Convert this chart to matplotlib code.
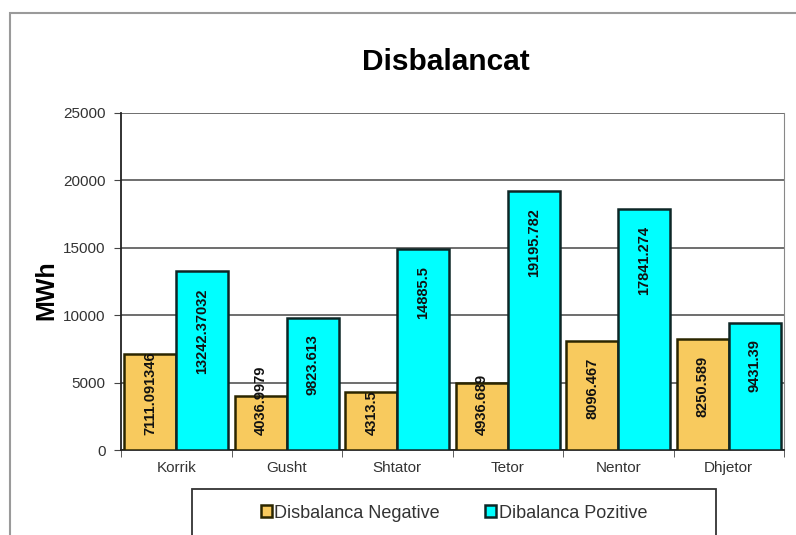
import matplotlib.pyplot as plt
import matplotlib.patches as mpatches
import numpy as np

plt.rcParams['font.family'] = ['Liberation Sans', 'DejaVu Sans']

# data
months = ['Korrik', 'Gusht', 'Shtator', 'Tetor', 'Nentor', 'Dhjetor']
negative = [7111.091346, 4036.9979, 4313.5, 4936.689, 8096.467, 8250.589]
positive = [13242.37032, 9823.613, 14885.5, 19195.782, 17841.274, 9431.39]
neg_labels = ['7111.091346', '4036.9979', '4313.5', '4936.689', '8096.467', '8250.589']
pos_labels = ['13242.37032', '9823.613', '14885.5', '19195.782', '17841.274', '9431.39']
yticks = [0, 5000, 10000, 15000, 20000, 25000]

W, H = 796, 535
fig = plt.figure(figsize=(W / 100, H / 100), dpi=100)
ax = fig.add_axes([121 / W, 1 - 450 / H, (784 - 121) / W, (450 - 113) / H])

# outer chart frame (runs off the right and bottom of the picture)
fig.patches.append(mpatches.Rectangle((10 / W, -0.1), 1.0, 1 - 13 / H + 0.1,
                                      transform=fig.transFigure, fill=False,
                                      edgecolor='#9a9a9a', lw=1.5))

x = np.arange(len(months))
w = 0.47
bars_n = ax.bar(x - w / 2, negative, w, color='#F8CA5E', edgecolor='#2b2600', lw=1.8,
                label='Disbalanca Negative', zorder=3)
bars_p = ax.bar(x + w / 2, positive, w, color='#00FFFF', edgecolor='#0d2626', lw=1.8,
                label='Dibalanca Pozitive', zorder=3)

ax.set_xlim(-0.5, 5.5)
ax.set_ylim(0, 25000)
ax.set_yticks(yticks)
ax.set_yticklabels([str(v) for v in yticks], fontsize=11, color='#333333')
ax.set_xticks(x)
ax.set_xticklabels(months, fontsize=11, color='#333333')
ax.set_xticks(np.arange(-0.5, 6, 1), minor=True)
ax.tick_params(axis='x', which='major', length=0, pad=8)
ax.tick_params(axis='x', which='minor', length=5, direction='out', color='#444')
ax.tick_params(axis='y', length=5, direction='out', pad=6, color='#444')
ax.grid(axis='y', color='#555555', lw=1.2, zorder=0)

for side in ['left', 'bottom']:
    ax.spines[side].set_color('#222222')
    ax.spines[side].set_linewidth(1.3)
ax.spines['top'].set_visible(False)
ax.spines['right'].set_color('#888888')

fig.text(446 / W, 1 - 62 / H, 'Disbalancat', fontsize=21.5, fontweight='bold',
         ha='center', va='center')
fig.text(46 / W, 1 - 290 / H, 'MWh', fontsize=18, fontweight='bold',
         rotation=90, ha='center', va='center')

# value labels: inside end, pushed up when the bar is too short
texts = []
for bars, labels in [(bars_n, neg_labels), (bars_p, pos_labels)]:
    for b, lab in zip(bars, labels):
        t = ax.annotate(lab, (b.get_x() + b.get_width() / 2, b.get_height()),
                        xytext=(0, -12), textcoords='offset points',
                        rotation=90, ha='center', va='top', fontsize=10.5,
                        fontweight='bold', color='#111111', zorder=5)
        texts.append((t, b))

fig.canvas.draw()
r = fig.canvas.get_renderer()
base_px = ax.transData.transform((0, 0))[1]
for t, b in texts:
    ext = t.get_window_extent(r)
    limit = base_px + 15
    if ext.y0 < limit:
        shift = (limit - ext.y0) * 72 / fig.dpi
        t.xyann = (0, -12 + shift)

# legend with a frame that runs past the bottom edge
fig.patches.append(mpatches.Rectangle((192 / W, -0.1), (716 - 192) / W, 1 - 489 / H + 0.1,
                                      transform=fig.transFigure, fill=False,
                                      edgecolor='#333333', lw=1.3))
fig.legend(handles=[bars_n, bars_p], loc='center', bbox_to_anchor=(454 / W, 1 - 513 / H),
           ncol=2, frameon=False, fontsize=13, handlelength=0.6, handleheight=0.6,
           handletextpad=0.15, columnspacing=2.5, labelcolor='#333333')

fig.savefig('out.png', dpi=100)
